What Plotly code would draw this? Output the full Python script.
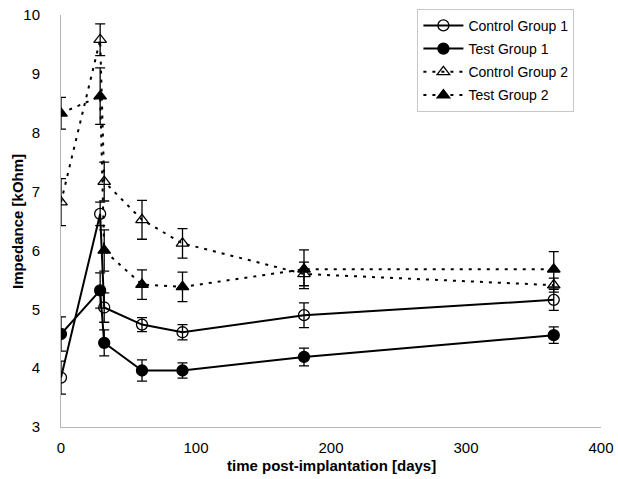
import plotly.graph_objects as go

days = [0, 29, 32, 60, 90, 180, 365]

cg1 = [3.84, 6.62, 5.03, 4.74, 4.61, 4.90, 5.16]
cg1_err = [0.28, 0.2, 0.25, 0.12, 0.13, 0.21, 0.18]

tg1 = [4.58, 5.32, 4.43, 3.96, 3.96, 4.19, 4.56]
tg1_err = [0.29, 0.3, 0.22, 0.18, 0.13, 0.15, 0.14]

cg2 = [6.82, 9.58, 7.17, 6.52, 6.12, 5.60, 5.41]
cg2_err = [0.40, 0.27, 0.33, 0.33, 0.25, 0.2, 0.12]

tg2 = [8.33, 8.62, 6.0, 5.42, 5.38, 5.68, 5.68]
tg2_err = [0.27, 0.48, 0.35, 0.25, 0.25, 0.33, 0.3]

names = ["Control Group 1", "Test Group 1", "Control Group 2", "Test Group 2"]
x_ticks = [0, 100, 200, 300, 400]
y_ticks = [3, 4, 5, 6, 7, 8, 9, 10]

fig = go.Figure()

def add(y, err, name, symbol, dash):
    fig.add_trace(go.Scatter(
        x=days, y=y, name=name, mode="lines+markers", legendgroup=name,
        line=dict(color="black", width=2, dash=dash),
        marker=dict(symbol=symbol, size=11, color="black",
                    line=dict(color="black", width=1.3)),
        error_y=dict(type="data", array=err, visible=True,
                     color="black", thickness=1.3, width=5),
    ))

add(cg1, cg1_err, names[0], "circle-open", "solid")
add(tg1, tg1_err, names[1], "circle", "solid")
add(cg2, cg2_err, names[2], "triangle-up-open", "3px,6px")
add(tg2, tg2_err, names[3], "triangle-up", "3px,6px")

fig.update_layout(
    width=618, height=479,
    margin=dict(l=61, r=17, t=15, b=52, autoexpand=False),
    paper_bgcolor="white", plot_bgcolor="white",
    font=dict(family="Arial, Liberation Sans, sans-serif", color="black"),
    showlegend=True,
    legend=dict(x=0.66, xanchor="left", y=1.015, yanchor="top",
                bgcolor="white", bordercolor="#c8c8c8", borderwidth=1,
                font=dict(size=14), tracegroupgap=2, itemwidth=40),
    xaxis=dict(range=[0, 400], tickvals=x_ticks,
               tickfont=dict(size=15), showgrid=False,
               zeroline=False, showline=True, automargin=False,
               linecolor="#b8b8b8", linewidth=1, ticks="", ticklabelstandoff=7),
    yaxis=dict(range=[3, 10], tickvals=y_ticks,
               tickfont=dict(size=15), showgrid=False,
               zeroline=False, showline=True, automargin=False,
               linecolor="#b8b8b8", linewidth=1, ticks="", ticklabelstandoff=17),
    annotations=[
        dict(text="<b>time post-implantation [days]</b>", xref="paper", yref="paper",
             x=0.5, y=-0.093, xanchor="center", yanchor="middle",
             showarrow=False, font=dict(size=15)),
        dict(text="<b>Impedance [kOhm]</b>", xref="paper", yref="paper",
             x=-0.0815, y=0.5, xanchor="center", yanchor="middle", textangle=-90,
             showarrow=False, font=dict(size=15)),
    ],
)

fig.write_html("out.html", config={"displayModeBar": False},
               post_script="document.body.style.margin='0';")
